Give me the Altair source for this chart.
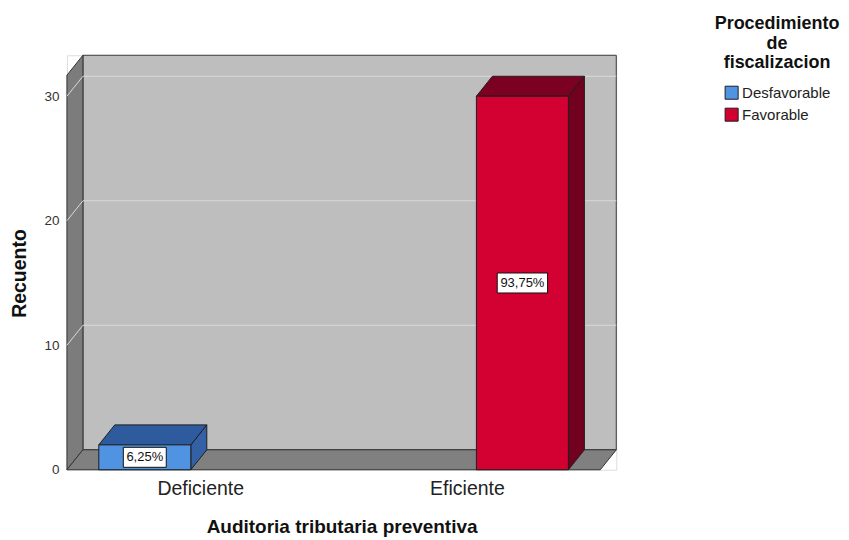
import json
import altair as alt
import pandas as pd

# ---------------- data ----------------
categories = ["Deficiente", "Eficiente"]
series = ["Desfavorable", "Favorable"]
counts = [[2, 0], [0, 30]]          # rows = categories, columns = series
y_ticks = [0, 10, 20, 30]

# ---------------- style ----------------
front_colors = ["#4F93E2", "#D30032"]
top_colors = ["#2D5B9E", "#7C0022"]
side_colors = ["#3461A6", "#72001F"]
wall_back = "#BEBEBE"
wall_left = "#7C7C7C"
floor_col = "#808080"
edge = "#1E1E1E"
grid_col = "#DADADA"

W, H = 550, 415
DX = 0.06                      # depth offset in x units
DY = 1.604                     # depth offset in y units
X_MAX = len(categories) + DX
Y_MAX = 33.29
SLOT = 0.208
BAR_W = 0.345
PX_X = W / X_MAX
PX_Y = H / Y_MAX

xs = alt.Scale(domain=[0, X_MAX], nice=False, zero=False)
ys = alt.Scale(domain=[0, Y_MAX], nice=False, zero=False)

label_expr = f"{json.dumps(categories)}[floor(datum.value)]"
x_axis = alt.Axis(
    values=[k + 0.5 for k in range(len(categories))], labelExpr=label_expr,
    domain=False, ticks=False, grid=False, labelFontSize=19.5,
    labelColor="#222222", labelPadding=10, labelFont="Liberation Sans",
    title="Auditoria tributaria preventiva", titleFontSize=19,
    titleFontWeight="bold", titleColor="#111111", titleY=57,
    titleBaseline="middle", titleFont="Liberation Sans")
y_axis = alt.Axis(
    values=y_ticks, domain=False, ticks=False, grid=False, labelFontSize=13.5,
    labelColor="#333333", labelPadding=8, labelFont="Liberation Sans",
    title="Recuento", titleFontSize=19.5, titleFontWeight="bold",
    titleColor="#111111", titleX=-47, titleY=218, titleAngle=270,
    titleAlign="center", titleBaseline="middle", titleFont="Liberation Sans")


def X(field):
    return alt.X(field, scale=xs, axis=x_axis, stack=None)


def Y(field):
    return alt.Y(field, scale=ys, axis=y_axis, stack=None)


total = sum(sum(r) for r in counts)

front, top, side, labels = [], [], [], []
for i, cat in enumerate(categories):
    for j, ser in enumerate(series):
        v = counts[i][j]
        if v <= 0:
            continue
        c = i + 0.5 + (j - 0.5) * 2 * SLOT
        l, r = c - BAR_W / 2, c + BAR_W / 2
        front.append(dict(series=ser, l=l, r=r, y0=0, y1=v))
        key = f"{cat}-{ser}"
        top.append(dict(k=key, y=v, xa=l, xb=r, col=top_colors[j]))
        top.append(dict(k=key, y=v + DY, xa=l + DX, xb=r + DX, col=top_colors[j]))
        side.append(dict(k=key, x=r, y0=0, y1=v, col=side_colors[j]))
        side.append(dict(k=key, x=r + DX, y0=DY, y1=v + DY, col=side_colors[j]))
        txt = f"{100 * v / total:.2f}%".replace(".", ",")
        hw = (len(txt) * 3.7 + 3) / PX_X
        hh = 10 / PX_Y
        labels.append(dict(t=txt, cx=c, cy=v / 2, bl=c - hw, br=c + hw,
                           bb=v / 2 - hh, bt=v / 2 + hh))

front_df = pd.DataFrame(front)
top_df = pd.DataFrame(top)
side_df = pd.DataFrame(side)
lab_df = pd.DataFrame(labels)

back = alt.Chart(pd.DataFrame([dict(x0=DX, x1=X_MAX, y0=DY, y1=Y_MAX)])).mark_rect(
    fill=wall_back, stroke="#3A3A3A", strokeWidth=1
).encode(x=X("x0:Q"), x2="x1:Q", y=Y("y0:Q"), y2="y1:Q")

left_df = pd.DataFrame([dict(x=0, y0=0, y1=Y_MAX - DY), dict(x=DX, y0=DY, y1=Y_MAX)])
left_wall = alt.Chart(left_df).mark_area(
    orient="vertical", fill=wall_left, stroke="#333333", strokeWidth=1
).encode(x=X("x:Q"), y=Y("y0:Q"), y2="y1:Q")

floor_df = pd.DataFrame([dict(y=0, xa=0, xb=len(categories)), dict(y=DY, xa=DX, xb=X_MAX)])
floor = alt.Chart(floor_df).mark_area(
    orient="horizontal", fill=floor_col, stroke="#333333", strokeWidth=1
).encode(y=Y("y:Q"), x=X("xa:Q"), x2="xb:Q")

grid_rows = []
for v in y_ticks[1:]:
    grid_rows.append(dict(xa=DX, xb=X_MAX, ya=v + DY, yb=v + DY))
    grid_rows.append(dict(xa=0, xb=DX, ya=v, yb=v + DY))
grid = alt.Chart(pd.DataFrame(grid_rows)).mark_rule(color=grid_col, strokeWidth=1).encode(
    x=X("xa:Q"), x2="xb:Q", y=Y("ya:Q"), y2="yb:Q")

tops = alt.Chart(top_df).mark_area(orient="horizontal", stroke=edge, strokeWidth=1).encode(
    y=Y("y:Q"), x=X("xa:Q"), x2="xb:Q", detail="k:N",
    fill=alt.Fill("col:N", scale=None))

sides = alt.Chart(side_df).mark_area(orient="vertical", stroke=edge, strokeWidth=1).encode(
    x=X("x:Q"), y=Y("y0:Q"), y2="y1:Q", detail="k:N",
    fill=alt.Fill("col:N", scale=None))

fronts = alt.Chart(front_df).mark_rect(stroke=edge, strokeWidth=1).encode(
    x=X("l:Q"), x2="r:Q", y=Y("y0:Q"), y2="y1:Q",
    color=alt.Color("series:N", scale=alt.Scale(domain=series, range=front_colors),
                    legend=alt.Legend(
                        title=["Procedimiento", "de", "fiscalizacion"],
                        orient="none", legendX=648, legendY=-40,
                        titleFontSize=18, titleFontWeight="bold", titleColor="#111111",
                        titleFont="Liberation Sans", titleAnchor="middle",
                        titleAlign="center", titleLineHeight=19.5, titlePadding=13,
                        labelFontSize=15, labelColor="#222222", labelFont="Liberation Sans",
                        symbolType="square", symbolSize=170, symbolStrokeColor=edge,
                        symbolStrokeWidth=1, symbolOpacity=1, symbolOffset=0,
                        labelOffset=3, rowPadding=3)))

boxes = alt.Chart(lab_df).mark_rect(fill="white", stroke="#111111", strokeWidth=1).encode(
    x=X("bl:Q"), x2="br:Q", y=Y("bb:Q"), y2="bt:Q")
texts = alt.Chart(lab_df).mark_text(fontSize=13, color="#111111", baseline="middle",
                                    align="center", font="Liberation Sans").encode(
    x=X("cx:Q"), y=Y("cy:Q"), text="t:N")

chart = alt.layer(
    back, left_wall, grid, floor, sides, tops, fronts, boxes, texts
).properties(
    width=W, height=H,
    padding={"left": 59, "top": 47, "right": 225, "bottom": 69},
    autosize=alt.AutoSizeParams(type="none"),
).configure_view(stroke=None).configure(font="Liberation Sans", background="white")

chart.save("out.html", embed_options={"renderer": "svg", "actions": False})
